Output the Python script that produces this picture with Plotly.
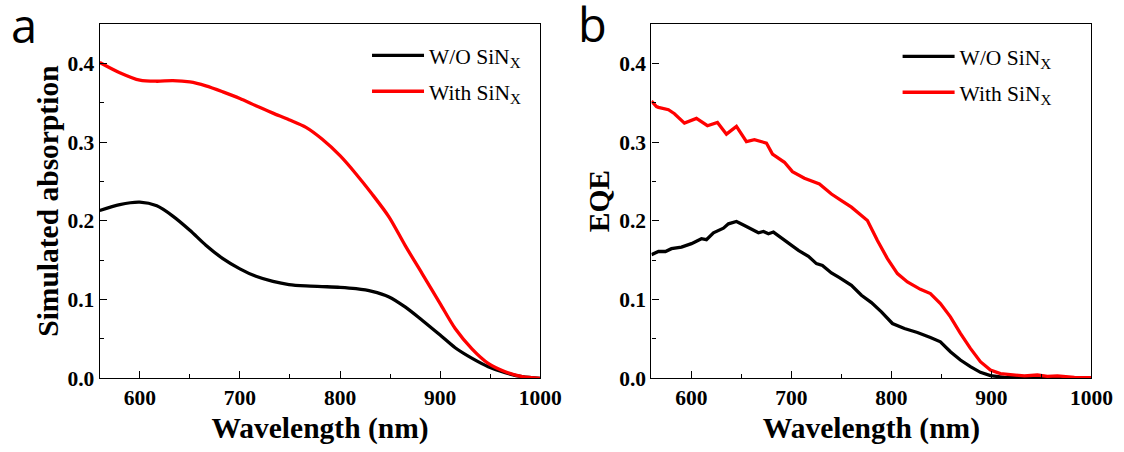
import plotly.graph_objects as go

# ---------------- data ----------------
# Panel a: simulated absorption
wl_a = [560, 580, 600, 617, 633, 650, 666, 683, 700, 716, 733, 749, 766, 782,
        800, 816, 832, 849, 865, 882, 900, 915, 932, 948, 965, 982, 1000]
abs_wo = [0.213, 0.2205, 0.2236, 0.219, 0.206, 0.188, 0.169, 0.152, 0.139, 0.1295,
          0.123, 0.119, 0.1173, 0.1165, 0.1156, 0.1139, 0.1105, 0.1034, 0.0907,
          0.0738, 0.0549, 0.0388, 0.0253, 0.0148, 0.0072, 0.002, 0.0]
abs_with = [0.401, 0.388, 0.3785, 0.3772, 0.378, 0.3763, 0.3713, 0.3637, 0.3553,
            0.346, 0.3367, 0.3283, 0.3186, 0.3038, 0.2827, 0.2595, 0.234, 0.2047,
            0.1688, 0.133, 0.0949, 0.0633, 0.0371, 0.019, 0.0084, 0.002, 0.0]

# Panel b: EQE
wl_b_wo = [560, 567, 574, 580, 590, 600, 610, 615, 622, 632, 637, 645, 653, 667,
           672, 677, 682, 693, 707, 717, 725, 731, 740, 748, 760, 770, 780, 790,
           801, 813, 826, 839, 849, 859, 869, 879, 889, 899, 913, 933, 960, 1000]
eqe_wo = [0.157, 0.161, 0.161, 0.1646, 0.1667, 0.171, 0.1772, 0.176, 0.1848, 0.1907,
          0.1962, 0.1991, 0.194, 0.1848, 0.1865, 0.1835, 0.1857, 0.175, 0.1624,
          0.1548, 0.1456, 0.1434, 0.1338, 0.1278, 0.1181, 0.1055, 0.0962, 0.0844,
          0.0696, 0.0633, 0.0582, 0.0519, 0.0464, 0.0338, 0.0232, 0.0148, 0.0076,
          0.0034, 0.0013, 0.0008, 0.0006, 0.0005]
wl_b_with = [560, 565, 567, 577, 583, 593, 605, 616, 626, 635, 645, 655, 663, 675,
             681, 693, 701, 713, 728, 740, 750, 760, 770, 776, 786, 796, 806, 816,
             829, 839, 849, 859, 869, 879, 889, 899, 909, 923, 933, 946, 956, 966,
             983, 1000]
eqe_with = [0.352, 0.345, 0.344, 0.341, 0.336, 0.324, 0.330, 0.3207, 0.3249, 0.310,
            0.3198, 0.3004, 0.3029, 0.2987, 0.2848, 0.2743, 0.2624, 0.254, 0.2468,
            0.234, 0.2257, 0.2173, 0.2067, 0.2004, 0.175, 0.152, 0.133, 0.1224,
            0.113, 0.1076, 0.0949, 0.078, 0.057, 0.038, 0.0211, 0.0105, 0.006,
            0.0038, 0.003, 0.0042, 0.0025, 0.003, 0.0013, 0.0008]

names = ["W/O SiN<sub>X</sub>", "With SiN<sub>X</sub>"]
colors = ["#000000", "#ff0000"]
x_ticks = [600, 700, 800, 900, 1000]
y_ticks = [0.0, 0.1, 0.2, 0.3, 0.4]
y_ticklabels = ["0.0", "0.1", "0.2", "0.3", "0.4"]

# ---------------- figure ----------------
W, H = 1124, 452          # target picture size (fractions below refer to it)
CW, CH = 1143, 463        # canvas size, compensating the capture scaling
SERIF = "Liberation Serif, Times New Roman, serif"

fig = go.Figure()

fig.add_trace(go.Scatter(x=wl_a, y=abs_wo, name=names[0], mode="lines",
                         line=dict(color=colors[0], width=3.3, shape="spline", smoothing=0.8),
                         xaxis="x", yaxis="y", legend="legend", legendgroup="a1"))
fig.add_trace(go.Scatter(x=wl_a, y=abs_with, name=names[1], mode="lines",
                         line=dict(color=colors[1], width=3.3, shape="spline", smoothing=0.8),
                         xaxis="x", yaxis="y", legend="legend", legendgroup="a2"))
fig.add_trace(go.Scatter(x=wl_b_wo, y=eqe_wo, name=names[0], mode="lines",
                         line=dict(color=colors[0], width=3.3),
                         xaxis="x2", yaxis="y2", legend="legend2", legendgroup="b1"))
fig.add_trace(go.Scatter(x=wl_b_with, y=eqe_with, name=names[1], mode="lines",
                         line=dict(color=colors[1], width=3.3),
                         xaxis="x2", yaxis="y2", legend="legend2", legendgroup="b2"))

tickfont = dict(family=SERIF, size=21.5, color="#000000", weight="bold")
titlefont = dict(family=SERIF, size=29.5, color="#000000", weight="bold")

def xaxis(domain, anchor):
    return dict(domain=domain, anchor=anchor, range=[560, 1000],
                tickvals=x_ticks, ticks="inside", ticklen=7, tickwidth=1.3,
                tickcolor="#000", showline=True, linecolor="#000", linewidth=1.3,
                mirror=True, showgrid=False, zeroline=False, tickfont=tickfont,
                ticklabelstandoff=0,
                minor=dict(dtick=50, tick0=550, ticks="inside", ticklen=4,
                           tickwidth=1.2, tickcolor="#000", showgrid=False),
                title=dict(text="Wavelength (nm)", font=titlefont, standoff=8))

def yaxis(domain, anchor, title):
    return dict(domain=domain, anchor=anchor, range=[0, 0.45],
                tickvals=y_ticks, ticktext=y_ticklabels, ticks="inside", ticklen=7,
                tickwidth=1.3, tickcolor="#000", showline=True, linecolor="#000",
                linewidth=1.3, mirror=True, showgrid=False, zeroline=False,
                tickfont=tickfont, ticklabelstandoff=0,
                minor=dict(dtick=0.05, tick0=0, ticks="inside", ticklen=4,
                           tickwidth=1.2, tickcolor="#000", showgrid=False),
                title=dict(text=title, font=titlefont, standoff=0))

ydom = [(H - 380) / H, (H - 24) / H]
fig.update_layout(
    width=CW, height=CH, autosize=False,
    margin=dict(l=0, r=0, t=0, b=0),
    paper_bgcolor="white", plot_bgcolor="white",
    xaxis=xaxis([100 / W, 541.7 / W], "y"),
    yaxis=yaxis(ydom, "x", "Simulated absorption"),
    xaxis2=xaxis([653.2 / W, 1094.3 / W], "y2"),
    yaxis2=yaxis(ydom, "x2", "EQE"),
    legend=dict(x=(430 - 62) / W, y=1 - 35 / H, xanchor="left", yanchor="top",
                bgcolor="rgba(0,0,0,0)", borderwidth=0, tracegroupgap=5,
                itemwidth=52,
                font=dict(family=SERIF, size=21.5, color="#000")),
    legend2=dict(x=(962 - 62) / W, y=1 - 36 / H, xanchor="left", yanchor="top",
                 bgcolor="rgba(0,0,0,0)", borderwidth=0, tracegroupgap=5,
                 itemwidth=52,
                 font=dict(family=SERIF, size=21.5, color="#000")),
    annotations=[
        dict(text="a", x=9 / W, y=1 - 25 / H, xref="paper", yref="paper",
             xanchor="left", yanchor="middle", showarrow=False,
             font=dict(family="Open Sans, sans-serif", size=47, color="#000")),
        dict(text="b", x=578 / W, y=1 - 24.5 / H, xref="paper", yref="paper",
             xanchor="left", yanchor="middle", showarrow=False,
             font=dict(family="Open Sans, sans-serif", size=47, color="#000")),
    ],
)

fig.write_html(
    "out.html",
    config={"displayModeBar": False},
    post_script=("document.documentElement.style.overflow='hidden';"
                 "document.body.style.margin='0';"
                 "document.body.style.overflow='hidden';"),
)
